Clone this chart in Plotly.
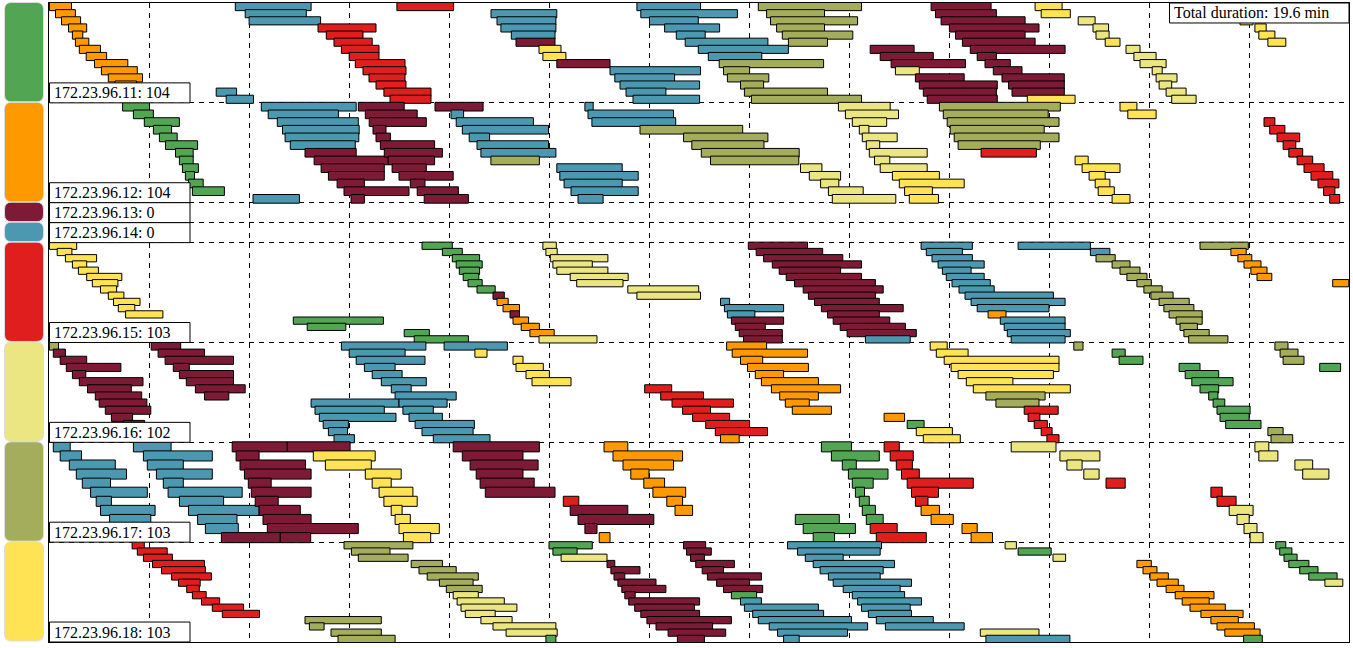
import plotly.graph_objects as go

hosts = ["172.23.96.11", "172.23.96.12", "172.23.96.13", "172.23.96.14",
         "172.23.96.15", "172.23.96.16", "172.23.96.17", "172.23.96.18"]
counts = [104, 104, 0, 0, 103, 102, 103, 103]
lane_counts = [14, 13, 1, 1, 16, 14, 11, 16]
row_heights = [100, 100, 20, 20, 100, 100, 100, 100]
host_letters = ["G", "O", "M", "T", "R", "P", "L", "Y"]
palette = {"G": "#52A552", "O": "#FF9900", "M": "#7D1A36", "T": "#4C98B0",
           "R": "#E01E1E", "P": "#EBE681", "L": "#A4AD5C", "Y": "#FFE354"}
total_label = "Total duration: 19.6 min"

# (lane, start, end, peer) : time in grid hundredths
tasks_11 = [
 (0,0.4,22.5,"O"),(1,6.5,26.4,"O"),(2,12.5,31.6,"O"),(3,19.5,37.7,"O"),(4,23.4,33.8,"O"),(5,26.4,39.8,"O"),
 (6,30.3,51.5,"O"),(7,37.2,57.6,"O"),(8,45.5,78.8,"O"),(9,52.4,88.3,"O"),(10,59.3,93.5,"O"),(11,66,87.5,"O"),
 (12,167.2,187.6,"T"),(13,177.2,204.5,"T"),(0,186.3,262.1,"T"),(1,196.2,257.3,"T"),(2,200.1,271.6,"T"),
 (0,347.9,404.6,"R"),(3,269,327,"R"),(4,277.3,314,"R"),(5,285,323.2,"R"),(6,292.4,330,"R"),(7,300.2,330,"R"),
 (8,306.3,356,"R"),(9,314,357,"R"),(10,320,356,"R"),(11,327,357,"R"),(12,334.9,382,"R"),(13,341,382,"R"),
 (1,442,507.8,"T"),(2,448,506.9,"T"),(3,451.9,506.9,"T"),(4,462.3,506,"T"),(5,467,506,"M"),(6,490,512,"Y"),
 (7,493.9,516.9,"Y"),(8,507.8,561,"M"),(9,561,651.5,"T"),(10,565.8,625.6,"T"),(11,571,650.6,"T"),
 (12,577,616.9,"T"),(13,584,650.6,"T"),(0,587.9,651.5,"T"),(1,591.8,688.4,"T"),(2,600.5,649.3,"T"),
 (3,615.6,670.6,"T"),(4,627.3,656.2,"T"),(5,636.2,718.9,"T"),(6,649.3,739.4,"T"),(7,659.3,712.8,"T"),
 (8,670.2,774.6,"L"),(9,674.5,700.6,"L"),(10,678.4,719.8,"L"),(11,691.5,714.6,"L"),(12,695.4,778.5,"L"),
 (13,702.4,812.5,"L"),(0,709.3,812.5,"L"),(1,717.6,775.5,"L"),(2,721.5,808.6,"L"),(3,727.6,775.5,"L"),
 (4,733.3,803.8,"L"),(5,739.4,778.5,"L"),(0,882.1,942.1,"M"),(1,886.5,947.4,"M"),(2,892.1,976.1,"M"),
 (3,900.4,990,"M"),(4,906.5,976.1,"M"),(5,913.4,986.1,"M"),(6,921.3,1016.1,"M"),(7,928.2,947.4,"M"),
 (8,936,961.3,"M"),(9,944.3,973,"M"),(10,953,1015.3,"M"),(11,959.6,1015.3,"M"),(12,963,1015.3,"M"),
 (6,821.2,865.1,"M"),(7,831.2,884.3,"M"),(8,842.1,916.5,"M"),(9,846.4,870.3,"P"),(10,866.4,915.2,"M"),
 (11,870.3,948.3,"M"),(12,874.3,947.4,"M"),(13,878.2,948.3,"M"),(13,978.3,1026.1,"Y"),(0,986.1,1013.1,"Y"),
 (1,992.2,1021.3,"Y"),(2,1029.2,1046.1,"P"),(3,1044,1059.6,"P"),(4,1047,1060.1,"P"),(5,1056.2,1071,"Y"),
 (6,1077,1091,"P"),(7,1084.9,1107.1,"P"),(8,1091,1117.1,"P"),(9,1103.2,1113.2,"P"),(10,1107.1,1128,"P"),
 (11,1110.1,1122.7,"P"),(12,1117.1,1137.1,"P"),(13,1122.7,1147.1,"P"),(2,1191,1204,"Y"),(3,1205.9,1217.2,"Y"),
 (4,1209.8,1225.9,"Y"),(5,1218.9,1236.8,"Y"),
]
tasks_12 = [
 (0,73.6,100.5,"G"),(1,84.4,104.4,"G"),(2,95.3,130.4,"G"),(3,104.4,122.6,"G"),(4,110.4,128.2,"G"),(5,116.5,148.6,"G"),
 (6,126.5,144.2,"G"),(7,130.4,144.2,"G"),(8,133.4,149.4,"G"),(9,136.4,145.5,"G"),(10,139.5,154.2,"G"),(11,143.4,175.4,"G"),
 (12,204,250.4,"T"),(0,212.3,307.2,"T"),(1,219.2,289.4,"T"),(2,228.3,309.3,"T"),(3,233.5,310.2,"T"),(4,236.1,309.8,"T"),
 (5,241.3,306.3,"T"),(6,256,307.2,"M"),(7,265.1,339.2,"M"),(8,272.1,335.3,"M"),(9,279.4,335.3,"M"),(10,288.1,315.4,"M"),
 (11,295,360,"M"),(12,302,315.4,"M"),(0,309.3,355.2,"M"),(1,316.3,368.2,"M"),(2,320.2,377.3,"M"),(3,324,337,"M"),
 (4,327,341.4,"M"),(5,331.4,385.6,"M"),(6,335.3,393.4,"M"),(7,339.2,385.6,"M"),(8,343.1,377.3,"M"),(9,350,404.2,"M"),
 (10,361.3,376,"M"),(11,368.2,409.4,"M"),(12,375.2,419.4,"M"),(0,386,434.1,"M"),(1,402,414.6,"T"),(2,407.2,484.4,"T"),
 (3,413.3,499.5,"T"),(4,420.2,440.6,"T"),(5,428,499.5,"T"),(6,431.9,506.9,"T"),(7,441.9,490.4,"L"),(8,507.8,573.2,"T"),
 (9,510.8,589.2,"T"),(10,515.1,573.2,"T"),(11,522,589.2,"T"),(12,529,554.1,"T"),(0,535.9,544.2,"T"),(1,539,624.5,"T"),
 (2,542.9,626.7,"T"),(3,591,693.7,"L"),(4,634.5,718.9,"L"),(5,642.8,715,"L"),(6,652.3,750.2,"L"),(7,661.5,749.8,"L"),
 (8,751.5,772.9,"P"),(9,760.3,791.6,"P"),(10,771.6,789.8,"P"),(11,779.4,814.2,"P"),(12,783.3,846.8,"P"),(0,789.4,841.2,"P"),
 (1,796.4,849.5,"P"),(2,803.3,837.7,"P"),(3,810.3,819.9,"P"),(4,813.3,848.2,"P"),(5,817.3,830.7,"P"),(6,820.3,878.2,"P"),
 (7,825.5,840.8,"P"),(8,831.2,878.2,"P"),(9,843.4,890.4,"Y"),(10,850.3,915.2,"Y"),(11,855.6,883.4,"Y"),(12,860.3,889.5,"Y"),
 (0,890.4,1011.3,"L"),(1,894.3,999.2,"L"),(2,898.2,1010,"L"),(3,901.2,995.2,"L"),(4,905.2,1010,"L"),(5,909.1,991.3,"L"),
 (6,932.1,987.4,"R"),(0,1071,1087.9,"Y"),(1,1078.8,1107.1,"Y"),(7,1026.1,1039.2,"Y"),(8,1033.1,1071,"Y"),(9,1040.1,1056.2,"Y"),
 (10,1046.2,1060.9,"Y"),(11,1049.2,1065.3,"Y"),(12,1063.1,1081,"Y"),(2,1215,1225.9,"R"),(3,1220.7,1235.9,"R"),(4,1228,1250.7,"R"),
 (5,1234.1,1246.8,"R"),(6,1239.8,1253.7,"R"),(7,1248.1,1263.7,"R"),(8,1255,1275.1,"R"),(9,1262,1283.8,"R"),(10,1269,1289.9,"R"),
 (11,1274.6,1285.9,"R"),(12,1280.7,1290.7,"R"),
]
tasks_13 = []
tasks_14 = []
tasks_15 = [
 (0,0.4,27.7,"Y"),(1,8.2,22.9,"Y"),(2,16.4,47.6,"Y"),(3,23.4,37.7,"Y"),(4,29.4,49.4,"Y"),(5,37.7,72.8,"Y"),(6,43.3,68.9,"Y"),
 (7,51.5,67.6,"Y"),(8,59.3,74.9,"Y"),(9,64.5,91,"Y"),(10,69.3,85.8,"Y"),(11,76.6,113.9,"Y"),(12,244.3,334.4,"G"),
 (13,258.2,296.8,"G"),(14,355.2,380.4,"G"),(15,365.2,419.4,"G"),(0,373,403.3,"G"),(1,393.4,413.3,"G"),(2,403.3,430.6,"G"),
 (3,407.2,433.2,"G"),(4,410.3,430.6,"G"),(5,414.2,429.8,"G"),(6,419,433.2,"G"),(7,428,446.2,"G"),(8,444,455.3,"M"),
 (9,448,459.2,"O"),(10,454,470.5,"O"),(11,461,470.5,"M"),(12,464,479.6,"O"),(13,472.2,490.4,"O"),(14,480.9,505.2,"O"),
 (15,490,548,"P"),(0,493.9,507.3,"P"),(1,496.9,508.2,"P"),(2,501.3,558.9,"P"),(3,503.9,543.3,"P"),(4,507.8,558.9,"P"),
 (5,521.2,579.2,"P"),(6,527.7,574,"P"),(7,578.8,649.7,"P"),(8,587.9,651.5,"P"),(9,671.5,680.6,"T"),(10,675.4,734.6,"T"),
 (11,678.4,705.9,"T"),(12,682.4,734.6,"M"),(13,686.3,716.3,"M"),(14,690.2,733.3,"M"),(15,694.5,733.3,"M"),(0,699.3,758.5,"M"),
 (1,707.2,773.7,"M"),(2,714.6,793.8,"M"),(3,723.3,812.5,"M"),(4,730.2,791.6,"M"),(5,737.2,812.5,"M"),(6,745.5,826.4,"M"),
 (7,754.2,834.2,"M"),(8,759.4,826.4,"M"),(9,765.5,830.3,"M"),(10,772.4,854.2,"M"),(11,778.5,830.3,"M"),(12,784.2,840.8,"M"),
 (13,791.2,856.4,"M"),(14,798.1,867.3,"M"),(15,816.4,861.2,"T"),(0,872.1,923.4,"T"),(1,877.3,913.4,"T"),(2,883,923.4,"T"),
 (3,889.1,935.2,"T"),(4,893.4,922.1,"T"),(5,897.3,935.2,"T"),(6,903,941.3,"T"),(7,910,945.2,"T"),(8,916,1004.4,"T"),
 (9,922.1,1016.1,"T"),(10,928.2,1000,"T"),(11,939.1,957,"O"),(12,951.3,1016.1,"T"),(13,955.2,1016.1,"T"),(14,958.3,1021.3,"T"),
 (15,962.2,1016.1,"T"),(0,969.1,1041.4,"T"),(1,1041.4,1060.9,"T"),(2,1047,1066.2,"L"),(3,1063.1,1081,"L"),(4,1071,1091,"L"),
 (5,1077.9,1098,"L"),(6,1087.9,1102.3,"L"),(7,1094.9,1113.2,"L"),(8,1101.9,1124.1,"L"),(9,1110.1,1140.2,"L"),(10,1114.9,1144.9,"L"),
 (11,1120.1,1153.2,"L"),(12,1127.1,1153.2,"L"),(13,1131,1148.4,"L"),(14,1134.9,1160.2,"L"),(15,1139.7,1178.9,"L"),
 (0,1151,1199.3,"L"),(1,1181.9,1197.2,"O"),(2,1188.9,1202.8,"O"),(3,1195,1212,"O"),(4,1201.9,1218,"O"),(5,1208,1222.8,"O"),
 (6,1283.7,1299.8,"O"),
]
tasks_16 = [
 (0,0.4,9.5,"L"),(1,4.3,16.4,"M"),(2,11.2,37.7,"M"),(3,17.3,71.9,"M"),(4,23.4,36.8,"M"),(5,30.3,94,"M"),(6,38.5,82.3,"M"),
 (7,46.3,92.7,"M"),(8,50.2,97.9,"M"),(9,56.3,101.8,"M"),(10,62.4,83.6,"M"),(11,74.5,95.7,"M"),(0,102.2,131.7,"M"),
 (1,109.1,155.5,"M"),(2,116.1,184.5,"M"),(3,124.3,140.3,"M"),(4,130.4,184.5,"M"),(5,137.3,184.5,"M"),(6,146.4,196.2,"M"),
 (7,155.5,179.8,"M"),(0,292.4,376.9,"T"),(1,300.2,356.1,"T"),(2,307.2,376,"T"),(3,315.4,346.1,"T"),(4,323.2,353.1,"T"),
 (5,332.3,377.3,"T"),(6,342.3,362.2,"T"),(7,346.1,407.2,"T"),(8,262.1,350,"T"),(8,350,398.1,"T"),(9,266,335.3,"T"),
 (9,353.9,384.3,"T"),(10,270.3,347,"T"),(10,360,393.4,"T"),(11,274.2,299.4,"T"),(11,366.1,425.4,"T"),(12,279.4,298.5,"T"),
 (12,373,424.1,"T"),(13,285,305.4,"T"),(13,384.3,441,"T"),(0,395.1,458.4,"T"),(1,425.9,438,"Y"),(2,464,474,"Y"),
 (3,467,494.3,"Y"),(4,477,500.4,"Y"),(5,483,522,"Y"),(6,595.7,622.7,"R"),(7,611.7,654.5,"R"),(8,623,684.5,"R"),
 (9,633.6,661.5,"R"),(10,643.6,680.6,"R"),(11,656.7,700.6,"R"),(12,666.3,718.5,"R"),(13,671.5,690.2,"O"),(0,677.6,717.6,"O"),
 (1,683.2,758.5,"O"),(2,691.5,713.7,"O"),(3,698.5,759.4,"O"),(4,706.3,734.6,"O"),(5,712.4,769.4,"O"),(6,722.4,791.6,"O"),
 (7,730.7,769.4,"O"),(8,736.3,760.3,"O"),(9,743.3,782.4,"O"),(10,835.1,855.6,"O"),(11,858.2,875.1,"G"),(12,867.3,903.4,"Y"),
 (13,874.3,911.3,"Y"),(0,881.2,898.2,"Y"),(1,887.3,919.1,"Y"),(2,895.2,1010,"Y"),(3,902.1,1010,"Y"),(4,909.1,1004.4,"Y"),
 (5,917.3,963.9,"Y"),(6,924.3,1021.3,"Y"),(7,936.9,996.1,"L"),(8,946.9,990,"L"),(9,975.2,1009.2,"R"),(10,979.1,990.9,"R"),
 (11,985.2,998.3,"R"),(12,992.2,1003.1,"R"),(13,997.9,1010,"R"),(0,1024.8,1034,"L"),(1,1063.1,1076.2,"G"),(2,1070.1,1094,"G"),
 (3,1130.1,1151,"G"),(4,1136.2,1169.7,"G"),(5,1142.8,1184.1,"G"),(6,1151,1169.7,"G"),(7,1159.7,1168.9,"G"),(8,1164.1,1175.8,"G"),
 (9,1168,1201.1,"G"),(10,1171,1200.2,"G"),(11,1176.7,1212,"G"),(12,1218.9,1234.1,"L"),(13,1222,1243.7,"L"),(0,1225.9,1239,"L"),
 (1,1231.1,1249,"L"),(2,1234.1,1255,"L"),(3,1270.7,1291.6,"G"),
]
tasks_17 = [
 (0,4.3,21.2,"T"),(1,11.2,32.5,"T"),(2,20.3,66.3,"T"),(3,27.3,77.5,"T"),(4,33.3,61.5,"T"),(5,41.6,98.3,"T"),(6,47.2,62.4,"T"),
 (7,51.5,106.1,"T"),(8,60.6,101.8,"T"),(0,84.4,122.1,"T"),(1,94.4,163.3,"T"),(2,98.3,134.3,"T"),(3,107.4,163.3,"T"),
 (4,114.3,134.3,"T"),(5,119.1,193.2,"T"),(6,130.4,174.6,"T"),(7,139.5,210.1,"T"),(8,148.6,188,"T"),(9,156.4,189.3,"T"),
 (0,183.2,238.3,"M"),(0,238.3,301.1,"M"),(1,187.1,210.1,"M"),(2,191,256.5,"M"),(3,195.4,262.1,"M"),(4,199.3,222.2,"M"),
 (5,202.3,262.1,"M"),(6,206.2,229.2,"M"),(7,210.1,251.3,"M"),(8,214,262.1,"M"),(9,218.3,309.3,"M"),(10,172.4,231.3,"M"),
 (10,231.3,261.7,"M"),(1,264.3,326.2,"Y"),(2,276.4,322.3,"Y"),(3,316.3,352.2,"Y"),(4,323.2,342.2,"Y"),(5,330.1,363.9,"Y"),
 (6,334.9,368.2,"Y"),(7,342.2,353.1,"Y"),(8,346.1,361.3,"Y"),(9,350,390.3,"Y"),(10,354.4,381.7,"Y"),(0,404.2,490.4,"M"),
 (1,413.3,474,"M"),(2,421.1,489.1,"M"),(3,427.2,474,"M"),(4,431.1,485.2,"M"),(5,436.3,506,"M"),(6,514.3,529.8,"R"),
 (7,521.2,578.8,"M"),(8,529,604.8,"M"),(9,535.9,548,"M"),(10,550.2,561,"O"),(0,555,578.8,"O"),(1,564,633.6,"O"),
 (2,574,624.5,"O"),(3,581.8,600,"O"),(4,594.8,615.6,"O"),(5,603.9,636.7,"O"),(6,617.8,633.6,"O"),(7,626,643.6,"O"),
 (0,772.4,802.5,"G"),(1,782.4,830.3,"G"),(2,793.3,807.3,"G"),(3,799.4,839,"G"),(4,803.3,824.2,"G"),(5,806.4,815.5,"G"),
 (6,810.3,820.3,"G"),(7,813.3,826.4,"G"),(8,817.3,834.2,"G"),(8,746.3,790.3,"G"),(9,754.2,806.4,"G"),(10,764.2,785.5,"G"),
 (0,835.1,850.3,"R"),(1,841.2,864.3,"R"),(2,847.3,863.4,"R"),(3,852.5,870.3,"R"),(4,858.2,924.3,"R"),(5,862.5,889.5,"R"),
 (6,866.4,879,"R"),(9,821.2,848.2,"R"),(10,827.3,877.3,"R"),(7,872.1,890.4,"O"),(8,882.1,904.3,"O"),(9,913,928.2,"O"),
 (10,922.1,943.5,"O"),(0,962.2,1007,"P"),(1,1010.9,1050.9,"P"),(2,1017.9,1033.1,"P"),(3,1034.8,1050.1,"P"),(4,1057,1076.2,"R"),
 (5,1161.9,1173.2,"R"),(6,1168,1187.1,"R"),(7,1180.2,1204.1,"P"),(8,1188,1200.2,"P"),(9,1195,1208,"P"),(10,1201.1,1214.1,"P"),
 (0,1205.9,1219.8,"P"),(1,1209.8,1228.9,"P"),(2,1245.9,1263.7,"P"),(3,1253.7,1279.9,"P"),
]
tasks_18 = [
 (0,83.1,95.3,"R"),(1,88.3,118.2,"R"),(2,94.4,123.4,"R"),(3,103.5,155.5,"R"),(4,112.6,156.4,"R"),(5,122.6,162.4,"R"),
 (6,129.5,151.2,"R"),(7,137.7,150.3,"R"),(8,143.4,157.2,"R"),(9,152.5,170.7,"R"),(10,163.3,194.5,"R"),(11,173.3,210.5,"R"),
 (12,256,332.3,"L"),(13,260.4,275.1,"L"),(14,282,332.3,"L"),(15,289,346.1,"L"),(0,295,363.9,"L"),(1,302.4,341,"L"),
 (2,309.3,359.1,"L"),(3,362.2,393.4,"L"),(4,370,407.2,"L"),(5,378.2,429.3,"L"),(6,390.4,424.1,"L"),(7,397.3,433.2,"L"),
 (8,404.2,429.3,"P"),(9,408.1,455.3,"P"),(10,412,467.9,"P"),(11,416.3,446.2,"P"),(12,431.9,463.1,"P"),(13,444,506.9,"P"),
 (14,457.1,508.2,"P"),(15,496.9,506.9,"G"),(0,500,543.3,"G"),(1,503.9,528.1,"G"),(2,512.1,558,"P"),(3,558,565.8,"M"),
 (4,561.9,591,"M"),(5,565,575.8,"M"),(6,568.9,607,"M"),(7,572.8,616.9,"M"),(8,575.8,586.2,"M"),(9,579.7,650.6,"M"),
 (10,585.7,645.4,"M"),(11,591.8,650.6,"M"),(12,597.9,682.4,"M"),(13,607,663.6,"M"),(14,619.1,676.7,"M"),(15,628.4,655.4,"M"),
 (0,634.5,656.7,"M"),(1,637.5,662.3,"M"),(2,641.5,655.4,"M"),(3,646.7,685.4,"M"),(4,653.2,674.5,"M"),(5,658.4,712.4,"M"),
 (6,667.6,700.6,"M"),(7,674.5,713.7,"M"),(8,682.4,707.6,"G"),(9,691.5,712.4,"T"),(10,695.4,769.4,"T"),(11,703.7,774.6,"T"),
 (12,709.3,802.5,"T"),(13,720.2,818.6,"T"),(14,728.5,798.5,"T"),(15,734.6,750.2,"T"),(0,738.5,832.5,"T"),(1,748.5,831.2,"T"),
 (2,756.3,794.2,"T"),(3,764.2,845.5,"T"),(4,771.1,834.2,"T"),(5,779.4,831.2,"T"),(6,784.2,862.5,"T"),(7,794.2,851.2,"T"),
 (8,803.3,855.6,"T"),(9,808.6,872.5,"T"),(10,812.5,861.2,"T"),(11,819.4,862.5,"T"),(12,827.3,884.3,"T"),(13,836.4,915.2,"T"),
 (0,956.1,967.4,"P"),(1,969.1,1002.2,"G"),(2,1004,1016.6,"P"),(14,931.3,990,"P"),(15,936.9,1020.9,"T"),(3,1087.9,1102.3,"O"),
 (4,1094,1108,"O"),(5,1101,1119.3,"O"),(6,1108,1129.3,"O"),(7,1117.1,1135,"O"),(8,1126.2,1165,"O"),(9,1133.2,1160.2,"O"),
 (10,1141,1176.3,"O"),(11,1151.9,1194.1,"O"),(12,1161.9,1189.3,"O"),(13,1168,1205.4,"O"),(14,1175.8,1211.1,"O"),
 (15,1194.6,1213.3,"G"),(0,1226.8,1236.8,"G"),(1,1230.7,1242.9,"G"),(2,1235,1248.1,"G"),(3,1239.8,1259.9,"G"),(4,1250.7,1269,"G"),
 (5,1259.8,1288.1,"G"),(6,1275.9,1293.8,"P"),
]
all_tasks = [tasks_11, tasks_12, tasks_13, tasks_14, tasks_15, tasks_16, tasks_17, tasks_18]

X_SPAN, Y_SPAN = 1300, 640
L, T = 49, 2.5
W, H = 1353, 648

centers, starts, durs, widths, colors = [], [], [], [], []
boundaries = [0]
for h_tasks, n, rh in zip(all_tasks, lane_counts, row_heights):
    top = boundaries[-1]
    step = rh / n
    for lane, s, e, p in h_tasks:
        centers.append(top + (lane + 0.5) * step)
        starts.append(s)
        durs.append(e - s)
        widths.append(step + 1)
        colors.append(palette[p])
    boundaries.append(top + rh)

fig = go.Figure(go.Bar(
    y=centers, x=durs, base=starts, width=widths, orientation="h",
    marker=dict(color=colors, line=dict(color="#000", width=1)),
    hoverinfo="skip", showlegend=False,
))

def px(v):
    return (v - L) / X_SPAN
def py(v):
    return 1 - (v - T) / Y_SPAN

shapes, annots = [], []
for i, host in enumerate(hosts):
    y0, y1 = boundaries[i] + T, boundaries[i + 1] + T
    a, b, c, d, r = 4.5, 43.5, y0 - 0.5, y1 - 1, 7
    path = (f"M {px(a+r)} {py(c)} L {px(b-r)} {py(c)} Q {px(b)} {py(c)} {px(b)} {py(c+r)} "
            f"L {px(b)} {py(d-r)} Q {px(b)} {py(d)} {px(b-r)} {py(d)} L {px(a+r)} {py(d)} "
            f"Q {px(a)} {py(d)} {px(a)} {py(d-r)} L {px(a)} {py(c+r)} Q {px(a)} {py(c)} {px(a+r)} {py(c)} Z")
    shapes.append(dict(type="path", path=path, xref="paper", yref="paper", layer="above",
                       fillcolor=palette[host_letters[i]], line=dict(color="#dddddd", width=1)))
    shapes.append(dict(type="rect", xref="paper", yref="paper", layer="above",
                       x0=px(49.5), x1=px(190), y0=py(y1 - 20), y1=py(y1),
                       fillcolor="white", line=dict(color="#000", width=1)))
    annots.append(dict(xref="paper", yref="paper", x=px(52), y=py(y1 - 10), xanchor="left", yanchor="middle",
                       text=f"{host}: {counts[i]}", showarrow=False,
                       font=dict(family="Liberation Serif", size=16, color="#000")))
shapes.append(dict(type="rect", xref="paper", yref="paper", layer="above",
                   x0=px(1169.5), x1=px(1349), y0=py(22.5), y1=py(2.5),
                   fillcolor="white", line=dict(color="#000", width=1)))
annots.append(dict(xref="paper", yref="paper", x=px(1172), y=py(12.5), xanchor="left", yanchor="middle",
                   text=total_label, showarrow=False,
                   font=dict(family="Liberation Serif", size=16, color="#000")))

fig.update_layout(
    width=W, height=H, margin=dict(l=L, t=T, r=W - L - X_SPAN, b=H - T - Y_SPAN, pad=0),
    paper_bgcolor="white", plot_bgcolor="white", barmode="overlay",
    shapes=shapes, annotations=annots,
    xaxis=dict(range=[0, X_SPAN], tickmode="linear", tick0=0, dtick=100, showticklabels=False, ticks="",
               showgrid=True, gridcolor="#000", gridwidth=1, griddash="5px,5px", zeroline=False,
               showline=True, mirror=True, linecolor="#000", linewidth=1),
    yaxis=dict(range=[Y_SPAN, 0], tickmode="array", tickvals=boundaries, showticklabels=False, ticks="",
               showgrid=True, gridcolor="#000", gridwidth=1, griddash="5px,5px", zeroline=False,
               showline=True, mirror=True, linecolor="#000", linewidth=1),
)
fig.write_html("out.html", config=dict(displayModeBar=False),
               post_script="document.body.style.margin='0';document.body.style.overflow='hidden';")
